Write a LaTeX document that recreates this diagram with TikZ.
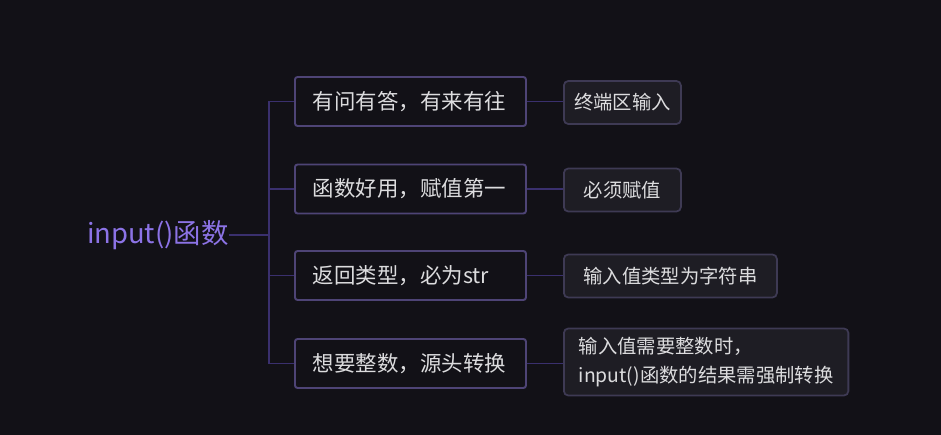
\documentclass[tikz,border=0pt]{standalone}
\usepackage{fontspec}
\setmainfont{Noto Sans CJK SC}
\usepackage{tikz}
\usetikzlibrary{positioning}
\usepackage{xcolor}
\definecolor{bgdark}{RGB}{18,17,23}
\definecolor{boxline}{RGB}{78,68,118}
\definecolor{leafline}{RGB}{62,58,84}
\definecolor{leaffill}{RGB}{30,29,36}
\definecolor{linkcol}{RGB}{58,48,110}
\definecolor{txtgray}{RGB}{220,220,222}
\definecolor{rootpurple}{RGB}{140,115,230}

\begin{document}
\begin{tikzpicture}[
    mainbox/.style={draw=boxline, line width=1.1pt, fill=bgdark, rounded corners=1.5pt,
      text=txtgray, font=\fontsize{12.2}{14}\selectfont, anchor=west,
      text width=3.9cm, align=left, inner xsep=0.36cm, minimum height=0.98cm},
    leafbox/.style={draw=leafline, line width=1pt, fill=leaffill, rounded corners=2.5pt,
      text=txtgray, font=\fontsize{11}{16.5}\selectfont, anchor=west,
      align=left, inner xsep=0.36cm, minimum height=0.86cm},
    link/.style={draw=linkcol, line width=1.1pt}
  ]
  \fill[bgdark] (0,0) rectangle (18.82,-8.70);

  % root
  \node[text=rootpurple, font=\fontsize{15.6}{18}\selectfont, anchor=east, inner sep=0pt] (root) at (4.58,-4.70) {input()函数};
  \coordinate (trunk) at (5.38,-4.70);

  % main branches
  \node[mainbox] (b1) at (5.88,-2.03) {有问有答，有来有往};
  \node[mainbox] (b2) at (5.88,-3.78) {函数好用，赋值第一};
  \node[mainbox] (b3) at (5.88,-5.51) {返回类型，必为str};
  \node[mainbox] (b4) at (5.88,-7.27) {想要整数，源头转换};

  % leaves
  \node[leafbox, inner xsep=0.2cm, minimum width=2.34cm] (l1) at (11.26,-2.05) {终端区输入};
  \node[leafbox, minimum width=2.34cm] (l2) at (11.26,-3.80) {必须赋值};
  \node[leafbox, minimum width=4.26cm] (l3) at (11.26,-5.52) {输入值类型为字符串};
  \node[leafbox, inner xsep=0.3cm, minimum height=1.34cm] (l4) at (11.26,-7.24) {输入值需要整数时，\\input()函数的结果需强制转换};

  % connectors
  \draw[link] (root.east) -- (trunk);
  \foreach \b in {b1,b2,b3,b4}
    \draw[link] (trunk) |- (\b.west);
  \draw[link] (b1.east) -- (b1.east -| l1.west);
  \draw[link] (b2.east) -- (b2.east -| l2.west);
  \draw[link] (b3.east) -- (b3.east -| l3.west);
  \draw[link] (b4.east) -- (b4.east -| l4.west);
\end{tikzpicture}
\end{document}
